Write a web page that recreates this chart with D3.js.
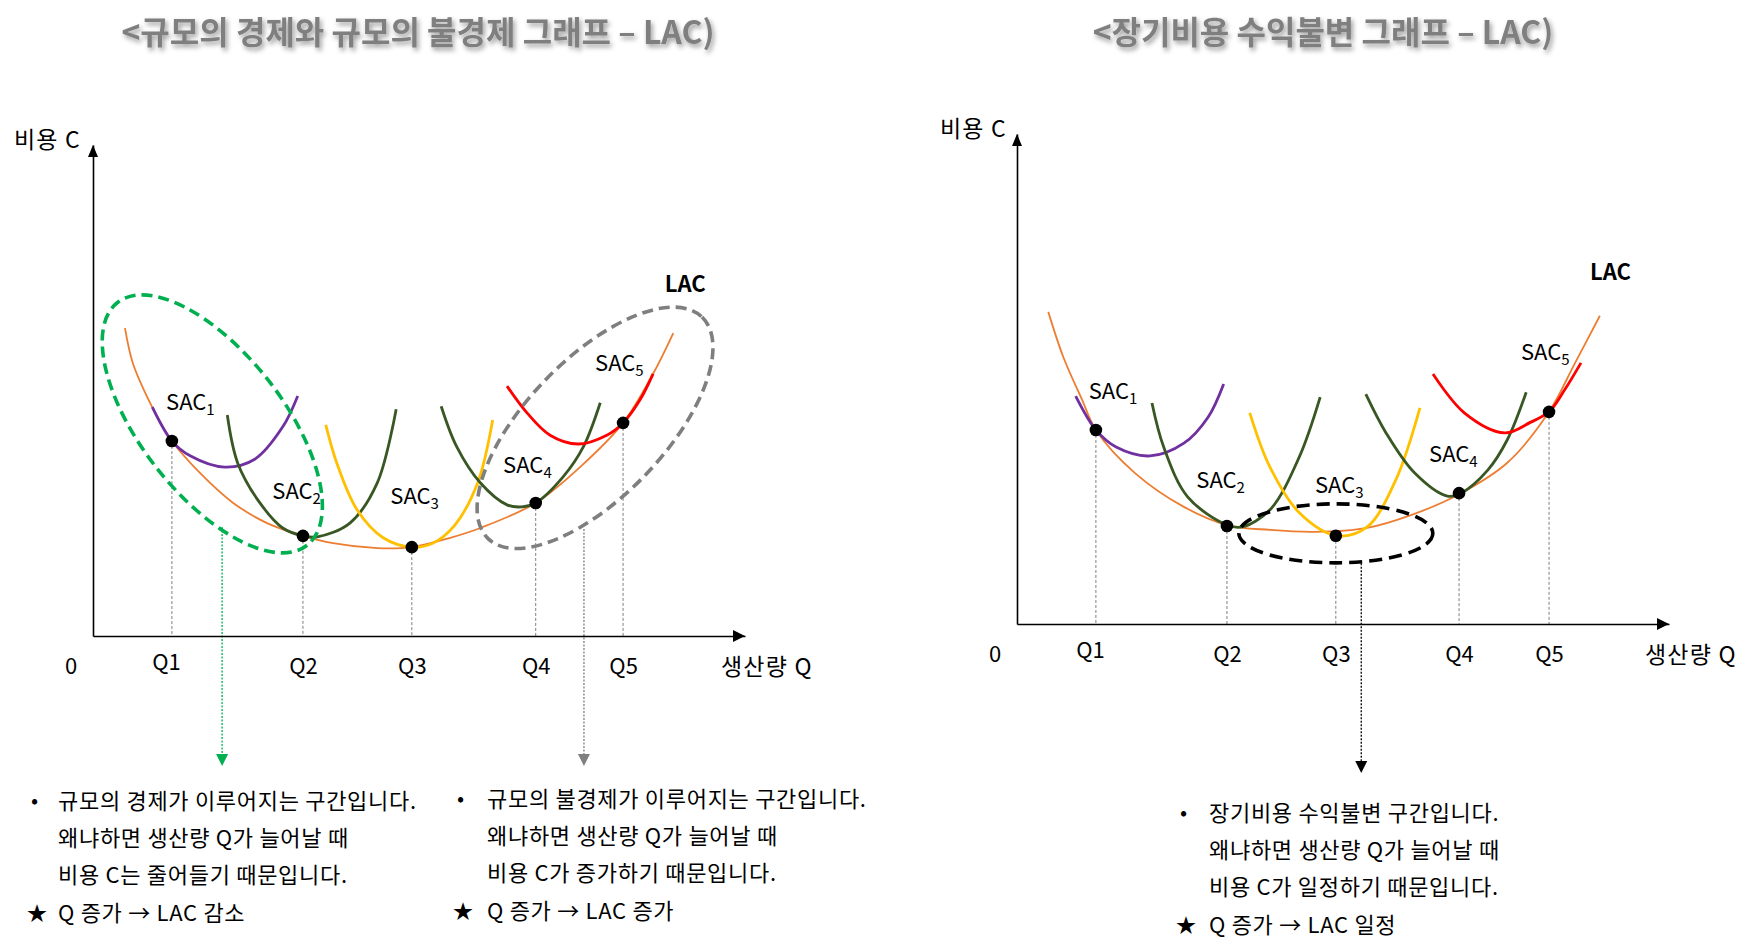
<!DOCTYPE html>
<html><head><meta charset="utf-8">
<script src="https://cdn.jsdelivr.net/npm/d3@7"></script>
<style>
body{margin:0;background:#fff;}
svg text{font-family:"Noto Sans CJK KR","Noto Sans",sans-serif;}
</style></head><body>
<svg id="chart" width="1754" height="951"></svg>
<script>
// ---------------- data (chart units: Q and C on 0..100) ----------------
const qLabels = ["Q1","Q2","Q3","Q4","Q5"];
const sacSubs = ["1","2","3","4","5"];
const sacColors = ["#7030A0","#385723","#FFC000","#385723","#FF0000"];

// Left panel: economies / diseconomies of scale
const leftTitle = "<규모의 경제와 규모의 불경제 그래프 – LAC)";
const leftQ = [12.1, 32.2, 48.9, 67.9, 81.3];
const leftTangent = [39.7, 20.4, 18.1, 27.1, 43.4];
const leftLAC = [[4.9,62.7],[6.1,55.6],[8.3,48.7],[10.3,43.6],[12.1,39.7],[16.4,33.2],[21.5,27.1],[26.7,23.0],[32.2,20.4],[36.8,18.9],[43.6,17.9],[48.9,18.1],[54.8,20.0],[59.4,22.0],[67.9,27.1],[74.7,34.4],[81.3,43.4],[85.9,53.4],[89.0,61.7]];
const leftSAC1 = [[9.1,46.6],[12.1,39.7],[14.9,36.7],[20.2,34.4],[24.8,36.0],[29.1,42.6],[31.4,48.9]];
const leftSAC2 = [[20.6,45.0],[22.2,35.2],[25.6,27.1],[29.1,22.0],[32.2,20.4],[34.4,20.2],[39.4,23.0],[43.6,31.2],[46.5,46.2]];
const leftSAC3 = [[35.7,43.0],[37.4,35.2],[40.5,25.7],[44.5,20.0],[48.9,18.1],[52.1,18.9],[55.5,22.6],[59.0,31.2],[61.3,44.0]];
const leftSAC4 = [[53.4,46.8],[55.8,38.5],[59.4,31.2],[63.5,26.7],[65.8,26.3],[67.9,27.1],[72.1,32.4],[75.2,38.5],[77.8,47.5]];
const leftSAC5 = [[63.5,50.9],[66.6,45.4],[70.1,40.9],[74.4,39.1],[78.8,40.9],[81.3,43.4],[83.9,48.1],[85.9,53.4]];
const leftSacLabelAt = [[11.2,46.0],[27.5,27.9],[45.6,26.9],[62.9,33.2],[77.0,54.0]];
const leftLacLabelAt = [87.7,70.1];

// Right panel: constant returns to scale
const rightTitle = "<장기비용 수익불변 그래프 – LAC)";
const rightQ = [12.1, 32.2, 48.9, 67.8, 81.6];
const rightTangent = [39.6, 20.0, 18.0, 26.7, 43.3];
const rightLAC = [[4.8,63.7],[7.1,54.5],[10.0,45.7],[12.1,39.6],[18.1,30.8],[25.6,23.9],[32.2,20.2],[38.8,19.2],[45.6,18.8],[53.7,19.6],[60.4,22.2],[68.1,26.7],[75.2,32.9],[81.6,43.3],[85.6,53.3],[89.4,62.9]];
const rightSAC1 = [[9.0,46.5],[12.1,39.6],[15.2,36.1],[20.4,34.3],[25.6,36.9],[29.3,42.2],[31.7,49.0]];
const rightSAC2 = [[20.7,45.1],[22.5,36.1],[26.2,25.9],[32.2,20.2],[34.5,19.8],[38.8,23.3],[43.3,34.1],[46.5,46.3]];
const rightSAC3 = [[35.7,43.1],[38.8,32.0],[43.3,22.7],[49.1,18.0],[53.7,19.8],[58.1,29.4],[61.8,44.1]];
const rightSAC4 = [[53.5,46.9],[56.6,39.0],[61.0,30.8],[66.0,26.1],[68.1,26.7],[72.2,31.4],[75.2,37.6],[78.1,47.3]];
const rightSAC5 = [[63.8,51.0],[68.6,43.1],[74.8,39.0],[78.8,41.2],[81.6,43.3],[84.0,47.8],[86.5,53.3]];
const rightSacLabelAt = [[11.0,45.9],[27.5,27.8],[45.7,26.7],[63.2,33.1],[77.3,53.9]];
const rightLacLabelAt = [87.9,70.2];

// highlighted regions (centres in chart units) and the arrows leaving them
const greenRegion = [18.3, 43.2];
const grayRegion = [77.0, 42.4];
const flatRegion = [48.9, 18.5];
const greenArrow = [19.8, 22.2];
const grayArrow = [75.3, 21.8];
const flatArrow = [52.8, 12.4];

// notes
const leftNote = ["규모의 경제가 이루어지는 구간입니다.","왜냐하면 생산량 Q가 늘어날 때","비용 C는 줄어들기 때문입니다."];
const leftSummary = "Q 증가 → LAC 감소";
const midNote = ["규모의 불경제가 이루어지는 구간입니다.","왜냐하면 생산량 Q가 늘어날 때","비용 C가 증가하기 때문입니다."];
const midSummary = "Q 증가 → LAC 증가";
const rightNote = ["장기비용 수익불변 구간입니다.","왜냐하면 생산량 Q가 늘어날 때","비용 C가 일정하기 때문입니다."];
const rightSummary = "Q 증가 → LAC 일정";

// ---------------- drawing ----------------
const svg = d3.select("#chart");
const defs = svg.append("defs");
const f = defs.append("filter").attr("id","shadow").attr("x","-10%").attr("y","-30%").attr("width","120%").attr("height","180%");
f.append("feDropShadow").attr("dx",2).attr("dy",3).attr("stdDeviation",2.5).attr("flood-color","#000").attr("flood-opacity",0.4);

function drawPanel(cfg){
  const g = svg.append("g");
  const x = d3.scaleLinear().domain([0,100]).range(cfg.xRange);
  const y = d3.scaleLinear().domain([0,100]).range(cfg.yRange);
  const line = d3.line().x(d=>x(d[0])).y(d=>y(d[1])).curve(d3.curveCatmullRom.alpha(0.5));

  // title
  g.append("text").attr("x",cfg.titleX).attr("y",44).attr("text-anchor","middle")
    .attr("font-size",32).attr("font-weight","bold").attr("fill","#7F7F7F")
    .attr("filter","url(#shadow)").text(cfg.title);

  // drop lines
  g.selectAll(".drop").data(cfg.q).join("line")
    .attr("x1",d=>x(d)).attr("x2",d=>x(d))
    .attr("y1",(d,i)=>y(cfg.tangent[i])).attr("y2",y(0))
    .attr("stroke","#7F7F7F").attr("stroke-width",1).attr("stroke-dasharray","3,2");

  // LAC
  g.append("path").attr("d",line(cfg.lac)).attr("fill","none")
    .attr("stroke","#ED7D31").attr("stroke-width",1.8);
  // SAC curves
  g.selectAll(".sac").data(cfg.sacs).join("path")
    .attr("d",d=>line(d)).attr("fill","none")
    .attr("stroke",(d,i)=>sacColors[i]).attr("stroke-width",2.8);

  // ellipses
  cfg.regions.forEach(r=>{
    g.append("ellipse").attr("cx",0).attr("cy",0).attr("rx",r.rx).attr("ry",r.ry)
      .attr("transform",`translate(${x(r.c[0])},${y(r.c[1])}) rotate(${r.rot})`)
      .attr("fill","none").attr("stroke",r.color).attr("stroke-width",3.6)
      .attr("stroke-dasharray",r.dash);
    const ax = x(r.arrow[0]);
    g.append("line").attr("x1",ax).attr("x2",ax).attr("y1",y(r.arrow[1])).attr("y2",r.tip-10)
      .attr("stroke",r.arrowColor).attr("stroke-width",1.3).attr("stroke-dasharray","2,1.5");
    g.append("path").attr("d",`M${ax},${r.tip} L${ax-6},${r.tip-12} L${ax+6},${r.tip-12} Z`)
      .attr("fill",r.arrowColor);
  });

  // tangency dots
  g.selectAll(".dot").data(cfg.q).join("circle")
    .attr("cx",d=>x(d)).attr("cy",(d,i)=>y(cfg.tangent[i])).attr("r",6.3).attr("fill","#000");

  // axes
  const xAxis = d3.axisBottom(x).tickValues(cfg.q).tickFormat((d,i)=>qLabels[i])
    .tickSize(0).tickSizeOuter(0).tickPadding(22);
  const gx = g.append("g").attr("transform",`translate(0,${y(0)})`).call(xAxis);
  gx.select(".domain").attr("stroke","#000").attr("stroke-width",1.6);
  gx.selectAll("text").attr("font-size",22).attr("fill","#000")
    .attr("font-family","'Noto Sans CJK KR','Noto Sans',sans-serif")
    .attr("dx",(d,i)=>i===0?-6:0).attr("dy",(d,i)=>i===0?"0.55em":"0.71em");
  const yAxis = d3.axisLeft(y).tickValues([]).tickSize(0).tickSizeOuter(0);
  const gy = g.append("g").attr("transform",`translate(${x(0)},0)`).call(yAxis);
  gy.select(".domain").attr("stroke","#000").attr("stroke-width",1.6);
  const xe = x(100), ye = y(100), x0 = x(0), y0 = y(0);
  g.append("path").attr("d",`M${xe},${y0} L${xe-12},${y0-6} L${xe-12},${y0+6} Z`).attr("fill","#000");
  g.append("path").attr("d",`M${x0},${ye} L${x0-5},${ye+12} L${x0+5},${ye+12} Z`).attr("fill","#000");

  // axis titles
  g.append("text").attr("x",x0-22).attr("y",y0+38).attr("text-anchor","middle").attr("font-size",22).text("0");
  g.append("text").attr("x",xe-24).attr("y",y0+39).attr("font-size",23).attr("letter-spacing",1.2).text("생산량 Q");
  g.append("text").attr("x",cfg.cLabelX).attr("y",ye+3).attr("font-size",23).attr("letter-spacing",1.2).text("비용 C");

  // curve labels
  cfg.sacLabels.forEach((p,i)=>{
    const t = g.append("text").attr("x",x(p[0])).attr("y",y(p[1])).attr("font-size",22).attr("fill","#000");
    t.append("tspan").text("SAC");
    t.append("tspan").attr("font-size",15).attr("dy",5).text(sacSubs[i]);
  });
  g.append("text").attr("x",x(cfg.lacLabel[0])).attr("y",y(cfg.lacLabel[1]))
    .attr("font-size",22).attr("font-weight","bold").text("LAC");
}

drawPanel({
  xRange:[93,745], yRange:[636,145], title:leftTitle, titleX:418, cLabelX:14,
  q:leftQ, tangent:leftTangent, lac:leftLAC,
  sacs:[leftSAC1,leftSAC2,leftSAC3,leftSAC4,leftSAC5],
  sacLabels:leftSacLabelAt, lacLabel:leftLacLabelAt,
  regions:[
    {c:greenRegion, rx:154, ry:71, rot:52, color:"#00B050", dash:"11,6", arrow:greenArrow, arrowColor:"#00B050", tip:766},
    {c:grayRegion, rx:154, ry:69, rot:-46, color:"#7F7F7F", dash:"11,6", arrow:grayArrow, arrowColor:"#7F7F7F", tip:766}
  ]
});
drawPanel({
  xRange:[1017,1669], yRange:[624,134], title:rightTitle, titleX:1323, cLabelX:940,
  q:rightQ, tangent:rightTangent, lac:rightLAC,
  sacs:[rightSAC1,rightSAC2,rightSAC3,rightSAC4,rightSAC5],
  sacLabels:rightSacLabelAt, lacLabel:rightLacLabelAt,
  regions:[
    {c:flatRegion, rx:97, ry:29.5, rot:0, color:"#000", dash:"13,7", arrow:flatArrow, arrowColor:"#000", tip:773}
  ]
});

// notes
function drawNote(lines, summary, bx, tx, y0){
  const g = svg.append("g").attr("font-size",22).attr("fill","#000").attr("letter-spacing",0.7);
  g.append("text").attr("x",bx).attr("y",y0-1).attr("font-size",21).attr("letter-spacing",0).text("•");
  lines.forEach((l,i)=>g.append("text").attr("x",tx).attr("y",y0+i*37).text(l));
  g.append("text").attr("x",bx-4).attr("y",y0+3*37+1).attr("font-size",20).attr("letter-spacing",0).text("★");
  g.append("text").attr("x",tx).attr("y",y0+3*37+1).text(summary);
}
drawNote(leftNote, leftSummary, 31, 58, 809);
drawNote(midNote, midSummary, 457, 487, 807);
drawNote(rightNote, rightSummary, 1180, 1209, 821);
</script>
</body></html>
